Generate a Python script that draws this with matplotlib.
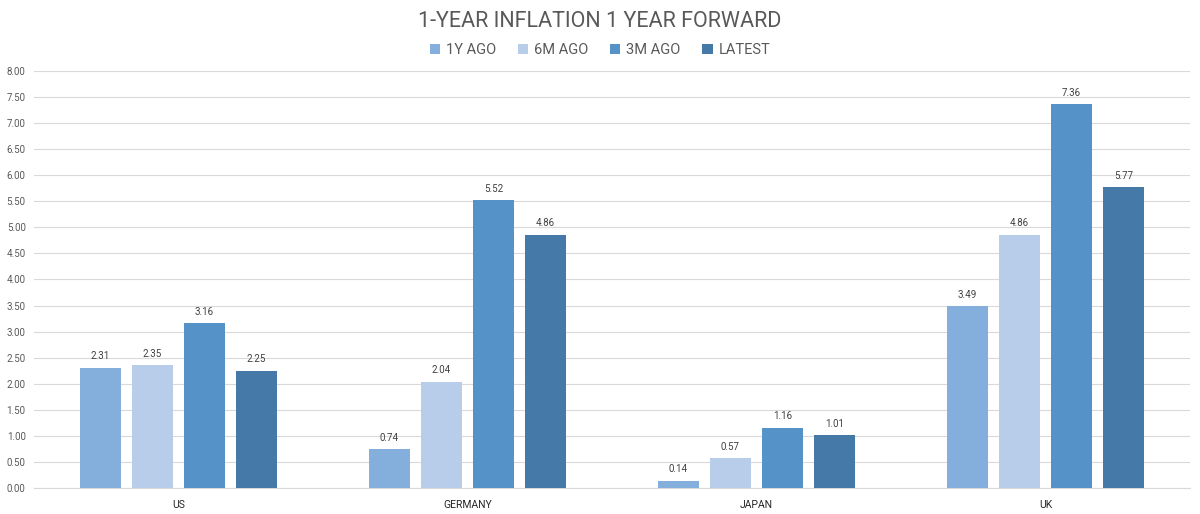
import numpy as np
import matplotlib
matplotlib.use('Agg')
import matplotlib.pyplot as plt

# données
pays = ['US', 'GERMANY', 'JAPAN', 'UK']
series = ['1Y AGO', '6M AGO', '3M AGO', 'LATEST']
il_y_a_1an = [2.31, 0.74, 0.14, 3.49]
il_y_a_6m = [2.35, 2.04, 0.57, 4.86]
il_y_a_3m = [3.16, 5.52, 1.16, 7.36]
dernier = [2.25, 4.86, 1.01, 5.77]
couleurs = ['#84AFDC', '#B8CDE9', '#5592C8', '#4479A8']

valeurs = [il_y_a_1an, il_y_a_6m, il_y_a_3m, dernier]

plt.rcParams['font.family'] = ['Roboto', 'DejaVu Sans']

fig = plt.figure(figsize=(12, 5.14), dpi=100)
ax = fig.add_axes([0.0283, 0.0506, 0.9633, 0.8114])

x = np.arange(len(pays))
larg = 0.142
pas = 0.18
for i, (nom, vals, c) in enumerate(zip(series, valeurs, couleurs)):
    pos = x + (i - 1.5) * pas
    barres = ax.bar(pos, vals, width=larg, color=c, label=nom, zorder=3)
    for b, v in zip(barres, vals):
        ax.text(b.get_x() + b.get_width() / 2, v + 0.12, f'{v:.2f}',
                ha='center', va='bottom', fontsize=7, color='#404040')

ax.set_xlim(-0.5, 3.5)
ax.set_ylim(0, 8)
ax.set_yticks(np.arange(0, 8.01, 0.5))
ax.set_yticklabels([f'{v:.2f}' for v in np.arange(0, 8.01, 0.5)])
ax.set_xticks(x)
ax.set_xticklabels(pays)
ax.grid(axis='y', color='#D9D9D9', linewidth=0.8, zorder=0)
for s in ['top', 'right', 'left']:
    ax.spines[s].set_visible(False)
ax.spines['bottom'].set_color('#D9D9D9')
ax.tick_params(axis='both', length=0, labelsize=7, colors='#595959')
ax.tick_params(axis='x', pad=9, colors='#262626', labelsize=7.5)
ax.tick_params(axis='y', pad=6)

fig.text(0.5, 0.958, '1-YEAR INFLATION 1 YEAR FORWARD', ha='center', va='center',
         fontsize=15.5, color='#595959')
fig.legend(loc='center', bbox_to_anchor=(0.5, 0.902), ncol=4, frameon=False,
           fontsize=10.5, handlelength=0.7, handleheight=0.7, handletextpad=0.4,
           columnspacing=1.5, labelcolor='#595959')

fig.savefig('out.png', dpi=100)
